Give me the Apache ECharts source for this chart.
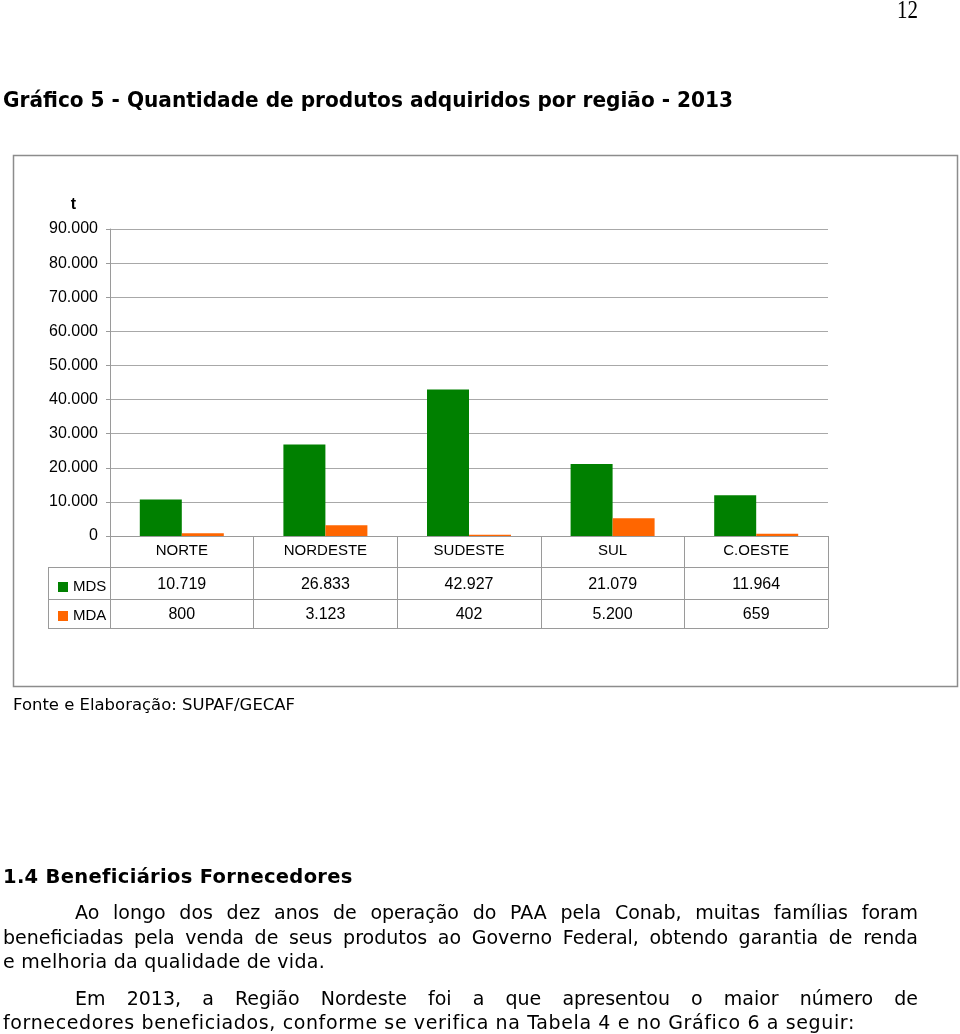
<!DOCTYPE html>
<html><head><meta charset="utf-8">
<script src="https://cdn.jsdelivr.net/npm/echarts@6/dist/echarts.min.js"></script>
<style>
html,body{margin:0;padding:0;width:960px;height:1034px;overflow:hidden;background:#fff;}
#chart{position:absolute;left:0;top:0;width:960px;height:1034px;}
.t{position:absolute;color:#000;pointer-events:none;transform-origin:0 0;white-space:nowrap;}
.p{font-family:"DejaVu Sans",Verdana,sans-serif;font-size:19px;line-height:24.5px;}
.j{white-space:normal;text-align:justify;text-align-last:justify;}
</style>
</head>
<body>
<div id="chart"></div>
<div class="t" id="pg" style="left:897px;top:-3px;font-family:'Liberation Serif','Times New Roman',serif;font-size:26px;line-height:26px;">12</div>
<div class="t" id="ttl" style="left:3px;top:88px;font-family:'DejaVu Sans Condensed','DejaVu Sans',sans-serif;font-weight:bold;font-size:21px;line-height:25px;">Gráfico 5 - Quantidade de produtos adquiridos por região - 2013</div>
<div class="t" id="src" style="left:13px;top:695px;font-family:'DejaVu Sans',Verdana,sans-serif;font-size:16px;line-height:19px;">Fonte e Elaboração: SUPAF/GECAF</div>
<div class="t" id="hd" style="left:3px;top:865px;font-family:'DejaVu Sans',Verdana,sans-serif;font-weight:bold;font-size:19.5px;line-height:24px;">1.4 Beneficiários Fornecedores</div>
<div class="t p j" id="l1" style="left:75px;top:900px;width:843px;">Ao longo dos dez anos de operação do PAA pela Conab, muitas famílias foram</div>
<div class="t p j" id="l2" style="left:3px;top:925px;width:915px;">beneficiadas pela venda de seus produtos ao Governo Federal, obtendo garantia de renda</div>
<div class="t p" id="l3" style="left:3px;top:949px;">e melhoria da qualidade de vida.</div>
<div class="t p j" id="l4" style="left:75px;top:986px;width:843px;">Em 2013, a Região Nordeste foi a que apresentou o maior número de</div>
<div class="t p" id="l5" style="left:3px;top:1010px;">fornecedores beneficiados, conforme se verifica na Tabela 4 e no Gráfico 6 a seguir:</div>
<script>
// ---- data ----
const categories = ['NORTE', 'NORDESTE', 'SUDESTE', 'SUL', 'C.OESTE'];
const mdsValues = [10719, 26833, 42927, 21079, 11964];
const mdaValues = [800, 3123, 402, 5200, 659];
const seriesNames = ['MDS', 'MDA'];
const yMin = 0, yMax = 90000, yStep = 10000;
const yUnit = 't';

function fmt(n){ return String(n).replace(/\B(?=(\d{3})+(?!\d))/g, '.'); }

// ---- text fitting helpers ----
function natW(el){
  const cs = getComputedStyle(el);
  const s = document.createElement('span');
  s.style.fontFamily = cs.fontFamily; s.style.fontSize = cs.fontSize; s.style.fontWeight = cs.fontWeight;
  s.style.whiteSpace = 'nowrap'; s.style.position = 'absolute'; s.style.visibility = 'hidden';
  s.textContent = el.textContent;
  document.body.appendChild(s);
  const w = s.getBoundingClientRect().width; s.remove(); return w;
}
function fitScale(id, target){ const el = document.getElementById(id); el.style.transform = 'scaleX(' + (target / natW(el)) + ')'; }
function fitLS(id, target){ const el = document.getElementById(id); const w = natW(el); el.style.letterSpacing = ((target - w) / el.textContent.length) + 'px'; }
function fitJ(id, target){ const el = document.getElementById(id); const w = natW(el); if (w > target - 4) el.style.letterSpacing = ((target - 4 - w) / el.textContent.length) + 'px'; }
fitScale('pg', 21);
fitScale('ttl', 730);
fitScale('src', 282);
fitLS('hd', 349);
fitLS('l3', 322);
fitLS('l5', 852);
fitJ('l1', 843); fitJ('l2', 915); fitJ('l4', 843);

// ---- chart ----
const gray = '#9a9a9a';
const chart = echarts.init(document.getElementById('chart'), null, {renderer: 'canvas', width: 960, height: 1034});
const tableLines = [
  [48, 567.5, 828, 567.5],
  [48, 599.5, 828, 599.5],
  [48, 628.5, 828, 628.5],
  [48.5, 567, 48.5, 629]
].map(c => ({type: 'line', silent: true, z: 5, shape: {x1: c[0], y1: c[1], x2: c[2], y2: c[3]}, style: {stroke: gray, lineWidth: 1}}));

chart.setOption({
  animation: false,
  textStyle: {fontFamily: '"Liberation Sans", Arial, sans-serif'},
  legend: {
    orient: 'vertical', left: 53, top: 574, itemWidth: 10, itemHeight: 10, itemGap: 13,
    icon: 'rect', selectedMode: false, data: seriesNames,
    itemStyle: {borderWidth: 0},
    textStyle: {fontSize: 15, lineHeight: 16, color: '#000', padding: [0, 0, 0, 0]}
  },
  grid: {left: 110, right: 132, top: 229, bottom: 498, containLabel: false, outerBoundsMode: 'none'},
  xAxis: [
    {
      type: 'category', data: categories, position: 'bottom',
      axisLine: {show: true, lineStyle: {color: gray, width: 1}},
      axisTick: {show: true, length: 92, lineStyle: {color: gray, width: 1}},
      axisLabel: {interval: 0, margin: 7, fontSize: 15, lineHeight: 15, color: '#000'},
      splitLine: {show: false}
    },
    {
      type: 'category', data: categories, position: 'bottom', offset: 0,
      axisLine: {show: false}, axisTick: {show: false}, splitLine: {show: false},
      axisLabel: {interval: 0, margin: 41, fontSize: 16, lineHeight: 16, color: '#000', formatter: (v, i) => fmt(mdsValues[i])}
    },
    {
      type: 'category', data: categories, position: 'bottom', offset: 0,
      axisLine: {show: false}, axisTick: {show: false}, splitLine: {show: false},
      axisLabel: {interval: 0, margin: 71, fontSize: 16, lineHeight: 16, color: '#000', formatter: (v, i) => fmt(mdaValues[i])}
    }
  ],
  yAxis: {
    type: 'value', min: yMin, max: yMax, interval: yStep,
    name: yUnit, nameLocation: 'end', nameGap: 16, nameMoveOverlap: false,
    nameTextStyle: {fontWeight: 'bold', fontSize: 16, lineHeight: 16, color: '#000', align: 'right', padding: [0, 34, 0, 0]},
    axisLine: {show: true, lineStyle: {color: gray, width: 1}},
    axisTick: {show: true, length: 4, lineStyle: {color: gray}},
    axisLabel: {margin: 12, fontSize: 16, color: '#000', formatter: v => fmt(v)},
    splitLine: {show: true, lineStyle: {color: '#a8a8a8', width: 1}}
  },
  series: [
    {name: seriesNames[0], type: 'bar', data: mdsValues, barWidth: 42, barGap: '0%', itemStyle: {color: '#008000'}},
    {name: seriesNames[1], type: 'bar', data: mdaValues, barWidth: 42, barGap: '0%', itemStyle: {color: '#ff6600'}}
  ],
  graphic: [
    {type: 'rect', silent: true, z: -1, shape: {x: 13.5, y: 155.5, width: 944, height: 531}, style: {fill: 'none', stroke: '#8c8c8c', lineWidth: 1.5}}
  ].concat(tableLines)
});
</script>
</body></html>
